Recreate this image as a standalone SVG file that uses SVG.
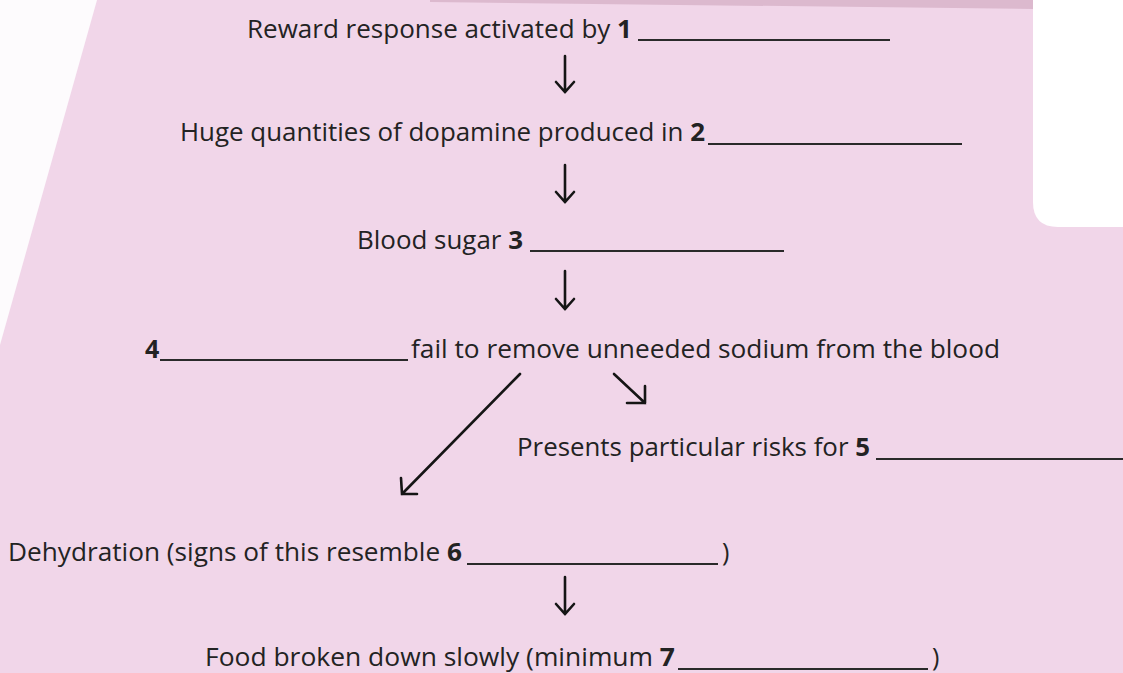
<svg xmlns="http://www.w3.org/2000/svg" width="1123" height="673" viewBox="0 0 1123 673">
<defs>
<style>
.t{font-family:"Open Sans","Noto Sans",sans-serif;font-size:25px;fill:#232323;}
.b{font-weight:bold;}
.blank{stroke:#2a2a2a;stroke-width:2;}
.arr{fill:none;stroke:#151515;stroke-width:2.6;stroke-linecap:round;stroke-linejoin:miter;}
</style>
</defs>
<rect x="0" y="0" width="1123" height="673" fill="#f1d6e9"/>
<polygon points="0,0 97,0 0,345" fill="#fdfbfd"/>
<polygon points="430,0 1033,0 1033,9 430,2" fill="#dcb9ce"/>
<path d="M1033,0 H1123 V227 H1058 Q1033,227 1033,202 Z" fill="#ffffff"/>
<g id="n1">
<text class="t" x="247" y="38" textLength="385" lengthAdjust="spacingAndGlyphs">Reward response activated by <tspan class="b">1</tspan></text>
<line class="blank" x1="638" y1="40" x2="890" y2="40"/>
</g>
<g id="n2">
<text class="t" x="180" y="141" textLength="525" lengthAdjust="spacingAndGlyphs">Huge quantities of dopamine produced in <tspan class="b">2</tspan></text>
<line class="blank" x1="708" y1="144" x2="962" y2="144"/>
</g>
<g id="n3">
<text class="t" x="357" y="249" textLength="166" lengthAdjust="spacingAndGlyphs">Blood sugar <tspan class="b">3</tspan></text>
<line class="blank" x1="530" y1="251" x2="784" y2="251"/>
</g>
<g id="n4">
<text class="t b" x="145" y="358">4</text>
<line class="blank" x1="160" y1="360" x2="408" y2="360"/>
<text class="t" x="411" y="358" textLength="589" lengthAdjust="spacingAndGlyphs">fail to remove unneeded sodium from the blood</text>
</g>
<g id="n5">
<text class="t" x="517" y="456" textLength="353" lengthAdjust="spacingAndGlyphs">Presents particular risks for <tspan class="b">5</tspan></text>
<line class="blank" x1="876" y1="459" x2="1123" y2="459"/>
</g>
<g id="n6">
<text class="t" x="8" y="561" textLength="454" lengthAdjust="spacingAndGlyphs">Dehydration (signs of this resemble <tspan class="b">6</tspan></text>
<line class="blank" x1="467" y1="564" x2="718" y2="564"/>
<text class="t" x="722" y="561">)</text>
</g>
<g id="n7">
<text class="t" x="205" y="666" textLength="470" lengthAdjust="spacingAndGlyphs">Food broken down slowly (minimum <tspan class="b">7</tspan></text>
<line class="blank" x1="678" y1="669" x2="928" y2="669"/>
<text class="t" x="932" y="666">)</text>
</g>
<g id="connectors">
<path class="arr" d="M565,56 V92 M556,82 L565,92 L574,82"/>
<path class="arr" d="M565,165 V202 M556,192 L565,202 L574,192"/>
<path class="arr" d="M565,271 V309 M556,299 L565,309 L574,299"/>
<path class="arr" d="M565,577 V614 M556,604 L565,614 L574,604"/>
<path class="arr" d="M520,374 L402,494 M401,478 L402,494 L417,494"/>
<path class="arr" d="M614,374 L645,403 M627,403 L645,403 L645,386"/>
</g>
</svg>
